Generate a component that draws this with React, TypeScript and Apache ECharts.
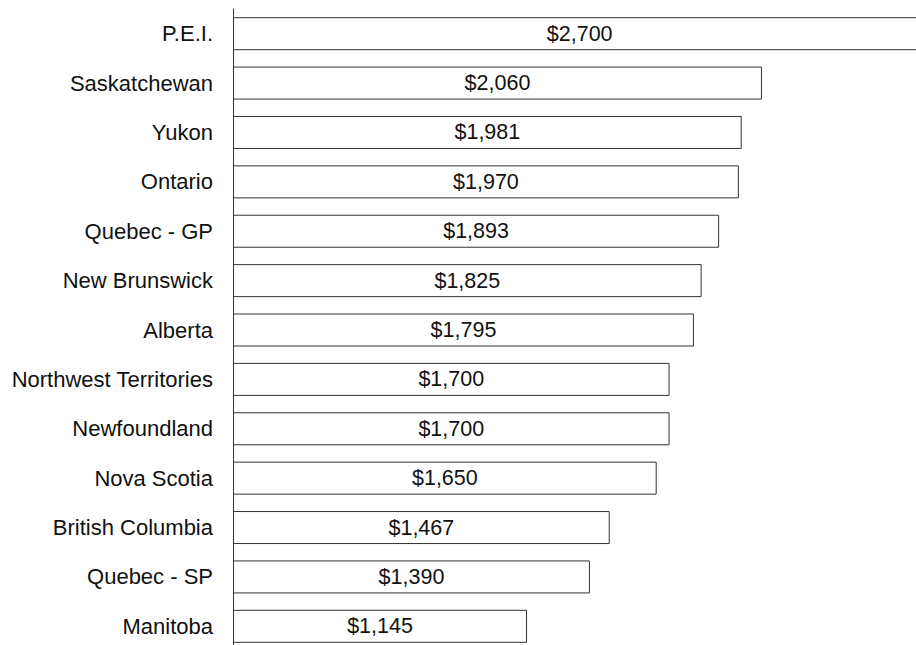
import React, { useEffect, useRef } from "react";
import * as echarts from "echarts";

const categories = [
  "P.E.I.",
  "Saskatchewan",
  "Yukon",
  "Ontario",
  "Quebec - GP",
  "New Brunswick",
  "Alberta",
  "Northwest Territories",
  "Newfoundland",
  "Nova Scotia",
  "British Columbia",
  "Quebec - SP",
  "Manitoba",
];

const values = [2700, 2060, 1981, 1970, 1893, 1825, 1795, 1700, 1700, 1650, 1467, 1390, 1145];

export default function App() {
  const ref = useRef<HTMLDivElement>(null);
  useEffect(() => {
    if (!ref.current) return;
    const chart = echarts.init(ref.current, undefined, { renderer: "svg" });
    chart.setOption({
      animation: false,
      backgroundColor: "#ffffff",
      textStyle: { fontFamily: "Liberation Sans, Arial, sans-serif" },
      grid: { left: 233, top: 9, right: 8, bottom: 9, containLabel: false },
      xAxis: {
        type: "value",
        min: 0,
        max: 2800,
        show: false,
      },
      yAxis: {
        type: "category",
        data: categories,
        inverse: true,
        axisLine: { show: true, lineStyle: { color: "#333333", width: 1 } },
        axisTick: { show: false },
        axisLabel: {
          color: "#111111",
          fontSize: 22,
          margin: 20,
          fontFamily: "Liberation Sans, Arial, sans-serif",
        },
        splitLine: { show: false },
      },
      series: [
        {
          type: "bar",
          data: values,
          barWidth: 33,
          itemStyle: { color: "#ffffff", borderColor: "#333333", borderWidth: 1 },
          label: {
            show: true,
            position: "inside",
            color: "#111111",
            fontSize: 21.5,
            fontFamily: "Liberation Sans, Arial, sans-serif",
            formatter: (p: any) => "$" + Number(p.value).toLocaleString("en-US"),
          },
        },
      ],
    });
    return () => chart.dispose();
  }, []);
  return (
    <div
      style={{
        position: "absolute",
        left: 0,
        top: 0,
        width: 916,
        height: 645,
        overflow: "hidden",
        background: "#ffffff",
      }}
    >
      <div ref={ref} style={{ width: 960, height: 660 }} />
    </div>
  );
}
